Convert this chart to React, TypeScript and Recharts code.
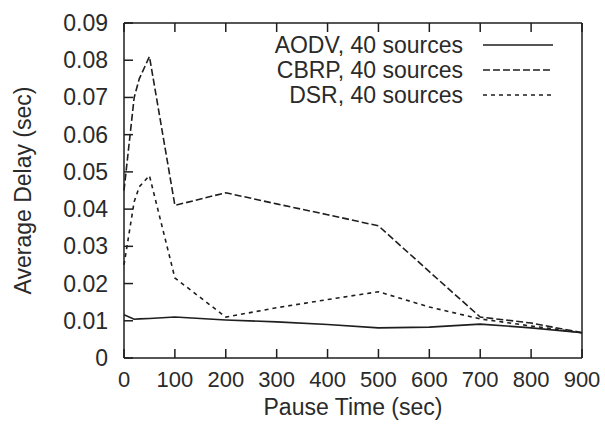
import React from "react";
import { LineChart, Line, XAxis, YAxis, Legend, Label } from "recharts";

// pause time (sec) and average delay (sec)
const pauseTimes = [0, 20, 30, 50, 100, 200, 300, 400, 500, 600, 700, 800, 900];
const aodv = [0.0116, 0.0104, 0.0105, 0.0106, 0.011, 0.0102, 0.0097, 0.009, 0.0081, 0.0083, 0.0091, 0.0081, 0.0068];
const cbrp = [0.045, 0.07, 0.075, 0.081, 0.041, 0.0444, 0.0414, 0.0385, 0.0355, 0.0232, 0.011, 0.0094, 0.0068];
const dsr = [0.025, 0.042, 0.046, 0.049, 0.0215, 0.011, 0.0135, 0.0157, 0.0178, 0.0137, 0.0105, 0.0086, 0.0068];

const xTicks = [0, 100, 200, 300, 400, 500, 600, 700, 800, 900];
const yTicks = [0, 0.01, 0.02, 0.03, 0.04, 0.05, 0.06, 0.07, 0.08, 0.09];

const seriesNames = ["AODV, 40 sources", "CBRP, 40 sources", "DSR, 40 sources"];
const seriesKeys = ["aodv", "cbrp", "dsr"];
const seriesDash = ["", "7 3", "4 4"];

const data = pauseTimes.map((t, i) => ({ t, aodv: aodv[i], cbrp: cbrp[i], dsr: dsr[i] }));

const INK = "#1e1e1e";
const TEXT = "#2a2a2a";
const FONT = "'Liberation Sans', Arial, Helvetica, sans-serif";
const FS = 23;
const TICK = 9;

// ticks point inwards, labels sit outside the frame
const BottomTick = ({ x, y, payload }: any) => (
  <g>
    <path d={`M${x},${y}V${y - TICK}`} stroke={INK} strokeWidth={1.5} />
    <text x={x} y={y + 29} textAnchor="middle" fontSize={22} fontFamily={FONT} fill={TEXT}>{payload.value}</text>
  </g>
);
const TopTick = ({ x, y }: any) => <path d={`M${x},${y}V${y + TICK}`} stroke={INK} strokeWidth={1.5} />;
const LeftTick = ({ x, y, payload }: any) => (
  <g>
    <path d={`M${x},${y}H${x + TICK}`} stroke={INK} strokeWidth={1.5} />
    <text x={x - 16} y={y + 8} textAnchor="end" fontSize={FS} fontFamily={FONT} fill={TEXT}>{String(payload.value)}</text>
  </g>
);
const RightTick = ({ x, y }: any) => <path d={`M${x},${y}H${x - TICK}`} stroke={INK} strokeWidth={1.5} />;

const YLabel = ({ viewBox }: any) => {
  const x = viewBox.x + 7;
  const y = viewBox.y + viewBox.height / 2;
  return (
    <text x={x} y={y} transform={`rotate(-90, ${x}, ${y})`} textAnchor="middle" fontSize={FS} fontFamily={FONT} fill={TEXT}>
      Average Delay (sec)
    </text>
  );
};
const XLabel = ({ viewBox }: any) => (
  <text x={viewBox.x + viewBox.width / 2} y={viewBox.y + 57} textAnchor="middle" fontSize={FS} fontFamily={FONT} fill={TEXT}>
    Pause Time (sec)
  </text>
);

const LegendBox = () => (
  <svg width={330} height={80} style={{ display: "block" }}>
    {seriesNames.map((n, i) => (
      <g key={n}>
        <text x={223} y={23 + i * 25} textAnchor="end" fontSize={FS} fontFamily={FONT} fill={TEXT}>{n}</text>
        <path d={`M243,${15 + i * 25}H313`} stroke={INK} strokeWidth={1.6} strokeDasharray={seriesDash[i] || undefined} />
      </g>
    ))}
  </svg>
);

export default function App() {
  return (
    <div style={{ position: "absolute", left: 0, top: 0, background: "#fff" }}>
      <LineChart width={605} height={430} data={data} margin={{ top: 22, right: 22, bottom: 22, left: 24 }}>
        <XAxis dataKey="t" type="number" domain={[0, 900]} ticks={xTicks} height={50} tickSize={0} tickMargin={0}
          tick={<BottomTick />} tickLine={false} axisLine={{ stroke: INK, strokeWidth: 1.5 }}>
          <Label content={<XLabel />} />
        </XAxis>
        <XAxis xAxisId="top" orientation="top" dataKey="t" type="number" domain={[0, 900]} ticks={xTicks} height={1}
          tickSize={0} tickMargin={0} tick={<TopTick />} tickLine={false} axisLine={{ stroke: INK, strokeWidth: 1.5 }} />
        <YAxis type="number" domain={[0, 0.09]} ticks={yTicks} width={100} tickSize={0} tickMargin={0}
          tick={<LeftTick />} tickLine={false} axisLine={{ stroke: INK, strokeWidth: 1.5 }}>
          <Label content={<YLabel />} />
        </YAxis>
        <YAxis yAxisId="right" orientation="right" type="number" domain={[0, 0.09]} ticks={yTicks} width={1}
          tickSize={0} tickMargin={0} tick={<RightTick />} tickLine={false} axisLine={{ stroke: INK, strokeWidth: 1.5 }} />
        <Legend layout="vertical" align="center" verticalAlign="middle" content={<LegendBox />}
          wrapperStyle={{ left: 240, top: 30, width: 330, height: 80 }} />
        {seriesKeys.map((k, i) => (
          <Line key={k} dataKey={k} name={seriesNames[i]} stroke={INK} strokeWidth={1.6}
            strokeDasharray={seriesDash[i] || undefined} dot={false} isAnimationActive={false} />
        ))}
      </LineChart>
    </div>
  );
}
